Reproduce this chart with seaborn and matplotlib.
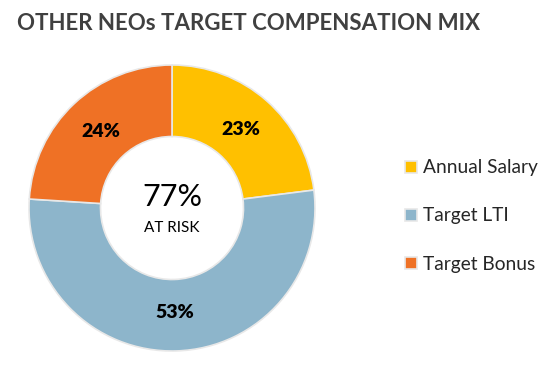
import matplotlib
matplotlib.use("Agg")
import matplotlib.pyplot as plt
import seaborn as sns

# data
labels = ["Annual Salary", "Target LTI", "Target Bonus"]
shares = [23, 53, 24]
colors = ["#FFC000", "#8DB5CB", "#EF7125"]
at_risk = 77

sns.set_theme(style="white")
plt.rcParams["font.family"] = ["Lato", "DejaVu Sans"]

fig = plt.figure(figsize=(5.45, 3.66), dpi=100)
fig.patch.set_facecolor("white")

ax = fig.add_axes([29 / 545, 15 / 366, 286 / 545, 286 / 366])
wedges, _, autotexts = ax.pie(
    shares, colors=sns.color_palette(colors), startangle=90, counterclock=False,
    radius=1.0, autopct=lambda p: f"{round(p)}%", pctdistance=0.73,
    wedgeprops=dict(width=0.5, edgecolor="#E8E8E8", linewidth=1.2),
    textprops=dict(fontsize=14, fontweight="heavy", color="black"),
)
ax.set_xlim(-1, 1)
ax.set_ylim(-1, 1)
ax.set_aspect("equal")

ax.text(0, 0.08, f"{at_risk}%", ha="center", va="center", fontsize=22, color="black")
ax.text(0, -0.14, "AT RISK", ha="center", va="center", fontsize=11, color="black")

fig.text(17 / 545, 1 - 24 / 366, "OTHER NEOs TARGET COMPENSATION MIX",
         ha="left", va="center", fontsize=16, fontweight="bold", color="#404040")

fig.legend(wedges, labels, loc="center left", bbox_to_anchor=(388 / 545, 1 - 216 / 366),
           frameon=False, fontsize=13.8, handlelength=0.6, handleheight=0.6,
           handletextpad=0.35, labelspacing=1.62)

fig.savefig("out.png", dpi=100)
